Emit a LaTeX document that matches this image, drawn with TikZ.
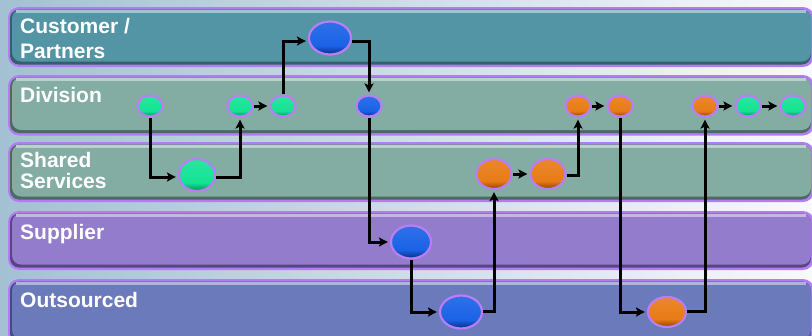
\documentclass[tikz,border=0pt]{standalone}
\usepackage{fontspec}
\setmainfont{Liberation Sans}
\usetikzlibrary{shapes.geometric,arrows.meta}
\definecolor{bgL}{HTML}{A3C1D3}
\definecolor{bgR}{HTML}{F8F9FA}
\definecolor{lanepurple}{HTML}{B27CF2}
\definecolor{ballpurple}{HTML}{B77FF3}
\definecolor{laneA}{HTML}{5495A5}
\definecolor{laneAd}{HTML}{35606B}
\definecolor{laneB}{HTML}{83ADA2}
\definecolor{laneBd}{HTML}{4C6962}
\definecolor{laneC}{HTML}{937CCB}
\definecolor{laneCd}{HTML}{574780}
\definecolor{laneD}{HTML}{6A7ABA}
\definecolor{laneDd}{HTML}{414D7E}
\definecolor{gbase}{HTML}{14E394}
\definecolor{gdark}{HTML}{0A8A58}
\definecolor{bbase}{HTML}{1A62E6}
\definecolor{bdark}{HTML}{0A2A80}
\definecolor{obase}{HTML}{E87B16}
\definecolor{odark}{HTML}{8A4204}
\pgfdeclareverticalshading{gshade}{100bp}{color(0bp)=(gdark); color(25bp)=(gdark); color(38bp)=(gbase); color(70bp)=(gbase!92!white); color(100bp)=(gbase!92!white)}
\pgfdeclareverticalshading{bshade}{100bp}{color(0bp)=(bdark); color(25bp)=(bdark); color(38bp)=(bbase); color(70bp)=(bbase!92!white); color(100bp)=(bbase!92!white)}
\pgfdeclareverticalshading{oshade}{100bp}{color(0bp)=(odark); color(25bp)=(odark); color(38bp)=(obase); color(70bp)=(obase!92!white); color(100bp)=(obase!92!white)}
\begin{document}
\begin{tikzpicture}[x=1pt,y=-1pt,
  lanetext/.style={text=white, font=\fontsize{21}{25}\selectfont\bfseries, inner sep=0pt},
  ball/.style={ellipse, draw=ballpurple, line width=2.2pt, inner sep=0pt},
  gsmall/.style={ball, minimum width=25pt, minimum height=21pt, shading=gshade},
  bsmall/.style={ball, minimum width=25pt, minimum height=21pt, shading=bshade},
  osmall/.style={ball, minimum width=25pt, minimum height=21pt, shading=oshade},
  gbig/.style={gsmall, minimum width=#1pt, minimum height=32pt},
  bbig/.style={bsmall, minimum width=#1pt, minimum height=33pt},
  obig/.style={osmall, minimum width=#1pt, minimum height=30pt},
  conn/.style={line width=3pt, -{Stealth[length=9pt,width=9pt,inset=2pt]}, shorten >=2pt}
]
\useasboundingbox (0,0) rectangle (812,335);
\shade[left color=bgL, right color=bgR] (0,0) rectangle (812,335);

% lanes
\fill[lanepurple, rounded corners=11] (8,7) rectangle (814,67);
\fill[laneAd, rounded corners=9] (10,9.5) rectangle (811,64.5);
\fill[laneA, rounded corners=9] (12,9.5) rectangle (811,61.5);
\fill[laneA!55!white] (16,10) rectangle (806,12.5);

\fill[lanepurple, rounded corners=11] (8,75) rectangle (814,135.5);
\fill[laneBd, rounded corners=9] (10,77.5) rectangle (811,133);
\fill[laneB, rounded corners=9] (12,77.5) rectangle (811,130);
\fill[laneB!55!white] (16,78) rectangle (806,80.5);

\fill[lanepurple, rounded corners=11] (8,142) rectangle (814,202);
\fill[laneBd, rounded corners=9] (10,144.5) rectangle (811,199.5);
\fill[laneB, rounded corners=9] (12,144.5) rectangle (811,196.5);
\fill[laneB!55!white] (16,145) rectangle (806,147.5);

\fill[lanepurple, rounded corners=11] (8,211) rectangle (814,270);
\fill[laneCd, rounded corners=9] (10,213.5) rectangle (811,267.5);
\fill[laneC, rounded corners=9] (12,213.5) rectangle (811,264.5);
\fill[laneC!55!white] (16,214) rectangle (806,216.5);

\fill[lanepurple, rounded corners=11] (8,279) rectangle (814,345);
\fill[laneDd, rounded corners=9] (10,281.5) rectangle (811,342);
\fill[laneD, rounded corners=9] (12,281.5) rectangle (811,339);
\fill[laneD!55!white] (16,282) rectangle (806,284.5);

% lane labels
\node[lanetext, anchor=base west] (t1) at (20,33) {Customer /};
\node[lanetext, anchor=base west] (t2) at (20,58) {Partners};
\node[lanetext, anchor=base west] (t3) at (20,102) {Division};
\node[lanetext, anchor=base west] (t4) at (20,167) {Shared};
\node[lanetext, anchor=base west] (t5) at (20,188) {Services};
\node[lanetext, anchor=base west] (t6) at (20,239) {Supplier};
\node[lanetext, anchor=base west] (t7) at (20,307) {Outsourced};

% nodes
\node[gsmall] (gA) at (150,106) {};
\node[gsmall] (gB) at (240,106) {};
\node[gsmall] (gC) at (283,106) {};
\node[bbig=42] (cB) at (330,38) {};
\node[bsmall] (dB) at (369,106) {};
\node[gbig=36] (gS) at (197,175) {};
\node[obig=35] (oS1) at (494,174) {};
\node[obig=35] (oS2) at (548,174) {};
\node[bbig=40] (sB) at (411,242) {};
\node[bbig=42] (xB) at (461,312) {};
\node[osmall] (oD1) at (578,106) {};
\node[osmall] (oD2) at (620,106) {};
\node[osmall] (oD3) at (705,106) {};
\node[gsmall] (gD1) at (748,106) {};
\node[gsmall] (gD2) at (793,106) {};
\node[obig=38] (xO) at (667,312) {};

% connectors
\draw[conn] (gA) |- ([yshift=-2pt]gS.west);
\draw[conn] ([yshift=-2pt]gS.east) -| (gB);
\draw[conn] (gB) -- (gC);
\draw[conn] (gC) |- ([yshift=-3pt]cB.west);
\draw[conn] ([yshift=-3pt]cB.east) -| (dB);
\draw[conn] (dB) |- (sB);
\draw[conn] (sB) |- (xB);
\draw[conn] ([yshift=1pt]xB.east) -| (oS1);
\draw[conn] (oS1) -- (oS2);
\draw[conn] ([yshift=-1pt]oS2.east) -| (oD1);
\draw[conn] (oD1) -- (oD2);
\draw[conn] (oD2) |- (xO);
\draw[conn] ([yshift=1pt]xO.east) -| (oD3);
\draw[conn] (oD3) -- (gD1);
\draw[conn] (gD1) -- (gD2);
\end{tikzpicture}
\end{document}
